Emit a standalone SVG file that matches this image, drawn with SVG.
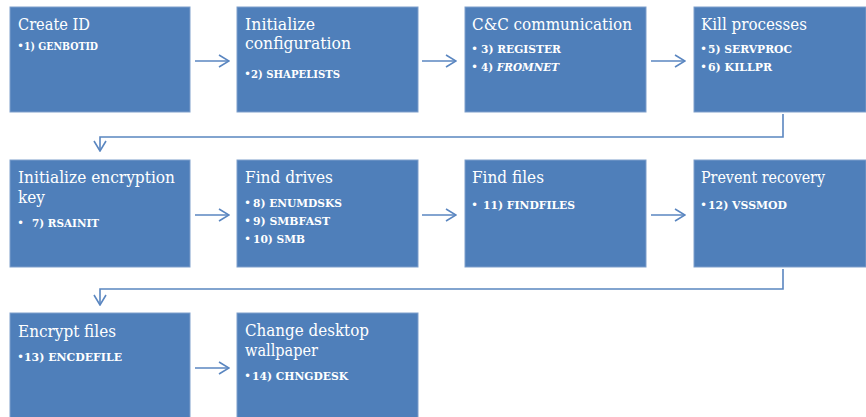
<svg xmlns="http://www.w3.org/2000/svg" width="866" height="417" viewBox="0 0 866 417">
<style>
.box{fill:#4F7FBA;stroke:#7E9FCB;stroke-width:1}
.t{font-family:"DejaVu Serif","Liberation Serif",serif;font-size:16.5px;fill:#FFFFFF}
.b{font-family:"DejaVu Serif","Liberation Serif",serif;font-size:11.5px;fill:#FFFFFF;font-weight:bold}
.d{font-family:"DejaVu Sans","Liberation Sans",sans-serif;font-size:12px;fill:#FFFFFF}
.i{font-style:italic}
.c{fill:none;stroke:#5A86C0;stroke-width:1.6}
</style>
<defs>
<marker id="ah" viewBox="0 0 12 14" refX="11" refY="7" markerWidth="12" markerHeight="14" markerUnits="userSpaceOnUse" orient="auto">
<path d="M1,1 L11,7 L1,13" fill="none" stroke="#5A86C0" stroke-width="1.6"/>
</marker>
</defs>
<rect width="866" height="417" fill="#FFFFFF"/>
<g id="connectors">
<line class="c" x1="195" y1="61" x2="229" y2="61" marker-end="url(#ah)"/>
<line class="c" x1="422" y1="61" x2="456" y2="61" marker-end="url(#ah)"/>
<line class="c" x1="651" y1="61" x2="685" y2="61" marker-end="url(#ah)"/>
<polyline class="c" points="783,114 783,137 100,137 100,151" marker-end="url(#ah)"/>
<line class="c" x1="195" y1="215" x2="229" y2="215" marker-end="url(#ah)"/>
<line class="c" x1="422" y1="215" x2="456" y2="215" marker-end="url(#ah)"/>
<line class="c" x1="651" y1="215" x2="685" y2="215" marker-end="url(#ah)"/>
<polyline class="c" points="783,269 783,289 100,289 100,305" marker-end="url(#ah)"/>
<line class="c" x1="195" y1="368" x2="229" y2="368" marker-end="url(#ah)"/>
</g>
<g id="n1">
<rect class="box" x="10" y="7" width="180" height="105"/>
<text class="t" x="18" y="30" textLength="72" lengthAdjust="spacingAndGlyphs">Create ID</text>
<text class="d" x="17" y="50">•</text>
<text class="b" x="24" y="50" textLength="74" lengthAdjust="spacingAndGlyphs">1) GENBOTID</text>
</g>
<g id="n2">
<rect class="box" x="237" y="7" width="181" height="105"/>
<text class="t" x="245" y="30" textLength="70" lengthAdjust="spacingAndGlyphs">Initialize</text>
<text class="t" x="245" y="49" textLength="106" lengthAdjust="spacingAndGlyphs">configuration</text>
<text class="d" x="244" y="78">•</text>
<text class="b" x="251" y="78" textLength="89" lengthAdjust="spacingAndGlyphs">2) SHAPELISTS</text>
</g>
<g id="n3">
<rect class="box" x="465" y="7" width="181" height="105"/>
<text class="t" x="472" y="30" textLength="160" lengthAdjust="spacingAndGlyphs">C&amp;C communication</text>
<text class="d" x="471" y="53">•</text>
<text class="b" x="481" y="53" textLength="80" lengthAdjust="spacingAndGlyphs">3) REGISTER</text>
<text class="d" x="471" y="71">•</text>
<text class="b" x="481" y="71" textLength="78" lengthAdjust="spacingAndGlyphs">4) <tspan class="i">FROMNET</tspan></text>
</g>
<g id="n4">
<rect class="box" x="694" y="7" width="172" height="105"/>
<text class="t" x="701" y="30" textLength="106" lengthAdjust="spacingAndGlyphs">Kill processes</text>
<text class="d" x="700" y="53">•</text>
<text class="b" x="708" y="53" textLength="84" lengthAdjust="spacingAndGlyphs">5) SERVPROC</text>
<text class="d" x="700" y="71">•</text>
<text class="b" x="708" y="71" textLength="64" lengthAdjust="spacingAndGlyphs">6) KILLPR</text>
</g>
<g id="n5">
<rect class="box" x="10" y="160" width="180" height="107"/>
<text class="t" x="18" y="183" textLength="157" lengthAdjust="spacingAndGlyphs">Initialize encryption</text>
<text class="t" x="18" y="203" textLength="27" lengthAdjust="spacingAndGlyphs">key</text>
<text class="d" x="17" y="227">•</text>
<text class="b" x="32" y="227" textLength="67" lengthAdjust="spacingAndGlyphs">7) RSAINIT</text>
</g>
<g id="n6">
<rect class="box" x="237" y="160" width="181" height="107"/>
<text class="t" x="245" y="183" textLength="88" lengthAdjust="spacingAndGlyphs">Find drives</text>
<text class="d" x="244" y="207">•</text>
<text class="b" x="253" y="207" textLength="89" lengthAdjust="spacingAndGlyphs">8) ENUMDSKS</text>
<text class="d" x="244" y="225">•</text>
<text class="b" x="253" y="225" textLength="77" lengthAdjust="spacingAndGlyphs">9) SMBFAST</text>
<text class="d" x="244" y="243">•</text>
<text class="b" x="253" y="243" textLength="52" lengthAdjust="spacingAndGlyphs">10) SMB</text>
</g>
<g id="n7">
<rect class="box" x="465" y="160" width="181" height="107"/>
<text class="t" x="472" y="183" textLength="72" lengthAdjust="spacingAndGlyphs">Find files</text>
<text class="d" x="471" y="209">•</text>
<text class="b" x="483" y="209" textLength="92" lengthAdjust="spacingAndGlyphs">11) FINDFILES</text>
</g>
<g id="n8">
<rect class="box" x="694" y="160" width="172" height="107"/>
<text class="t" x="701" y="183" textLength="124" lengthAdjust="spacingAndGlyphs">Prevent recovery</text>
<text class="d" x="700" y="209">•</text>
<text class="b" x="708" y="209" textLength="79" lengthAdjust="spacingAndGlyphs">12) VSSMOD</text>
</g>
<g id="n9">
<rect class="box" x="10" y="313" width="180" height="110"/>
<text class="t" x="18" y="337" textLength="98" lengthAdjust="spacingAndGlyphs">Encrypt files</text>
<text class="d" x="17" y="361">•</text>
<text class="b" x="24" y="361" textLength="98" lengthAdjust="spacingAndGlyphs">13) ENCDEFILE</text>
</g>
<g id="n10">
<rect class="box" x="237" y="313" width="181" height="110"/>
<text class="t" x="245" y="336" textLength="124" lengthAdjust="spacingAndGlyphs">Change desktop</text>
<text class="t" x="245" y="356" textLength="73" lengthAdjust="spacingAndGlyphs">wallpaper</text>
<text class="d" x="244" y="380">•</text>
<text class="b" x="252" y="380" textLength="96" lengthAdjust="spacingAndGlyphs">14) CHNGDESK</text>
</g>
</svg>
